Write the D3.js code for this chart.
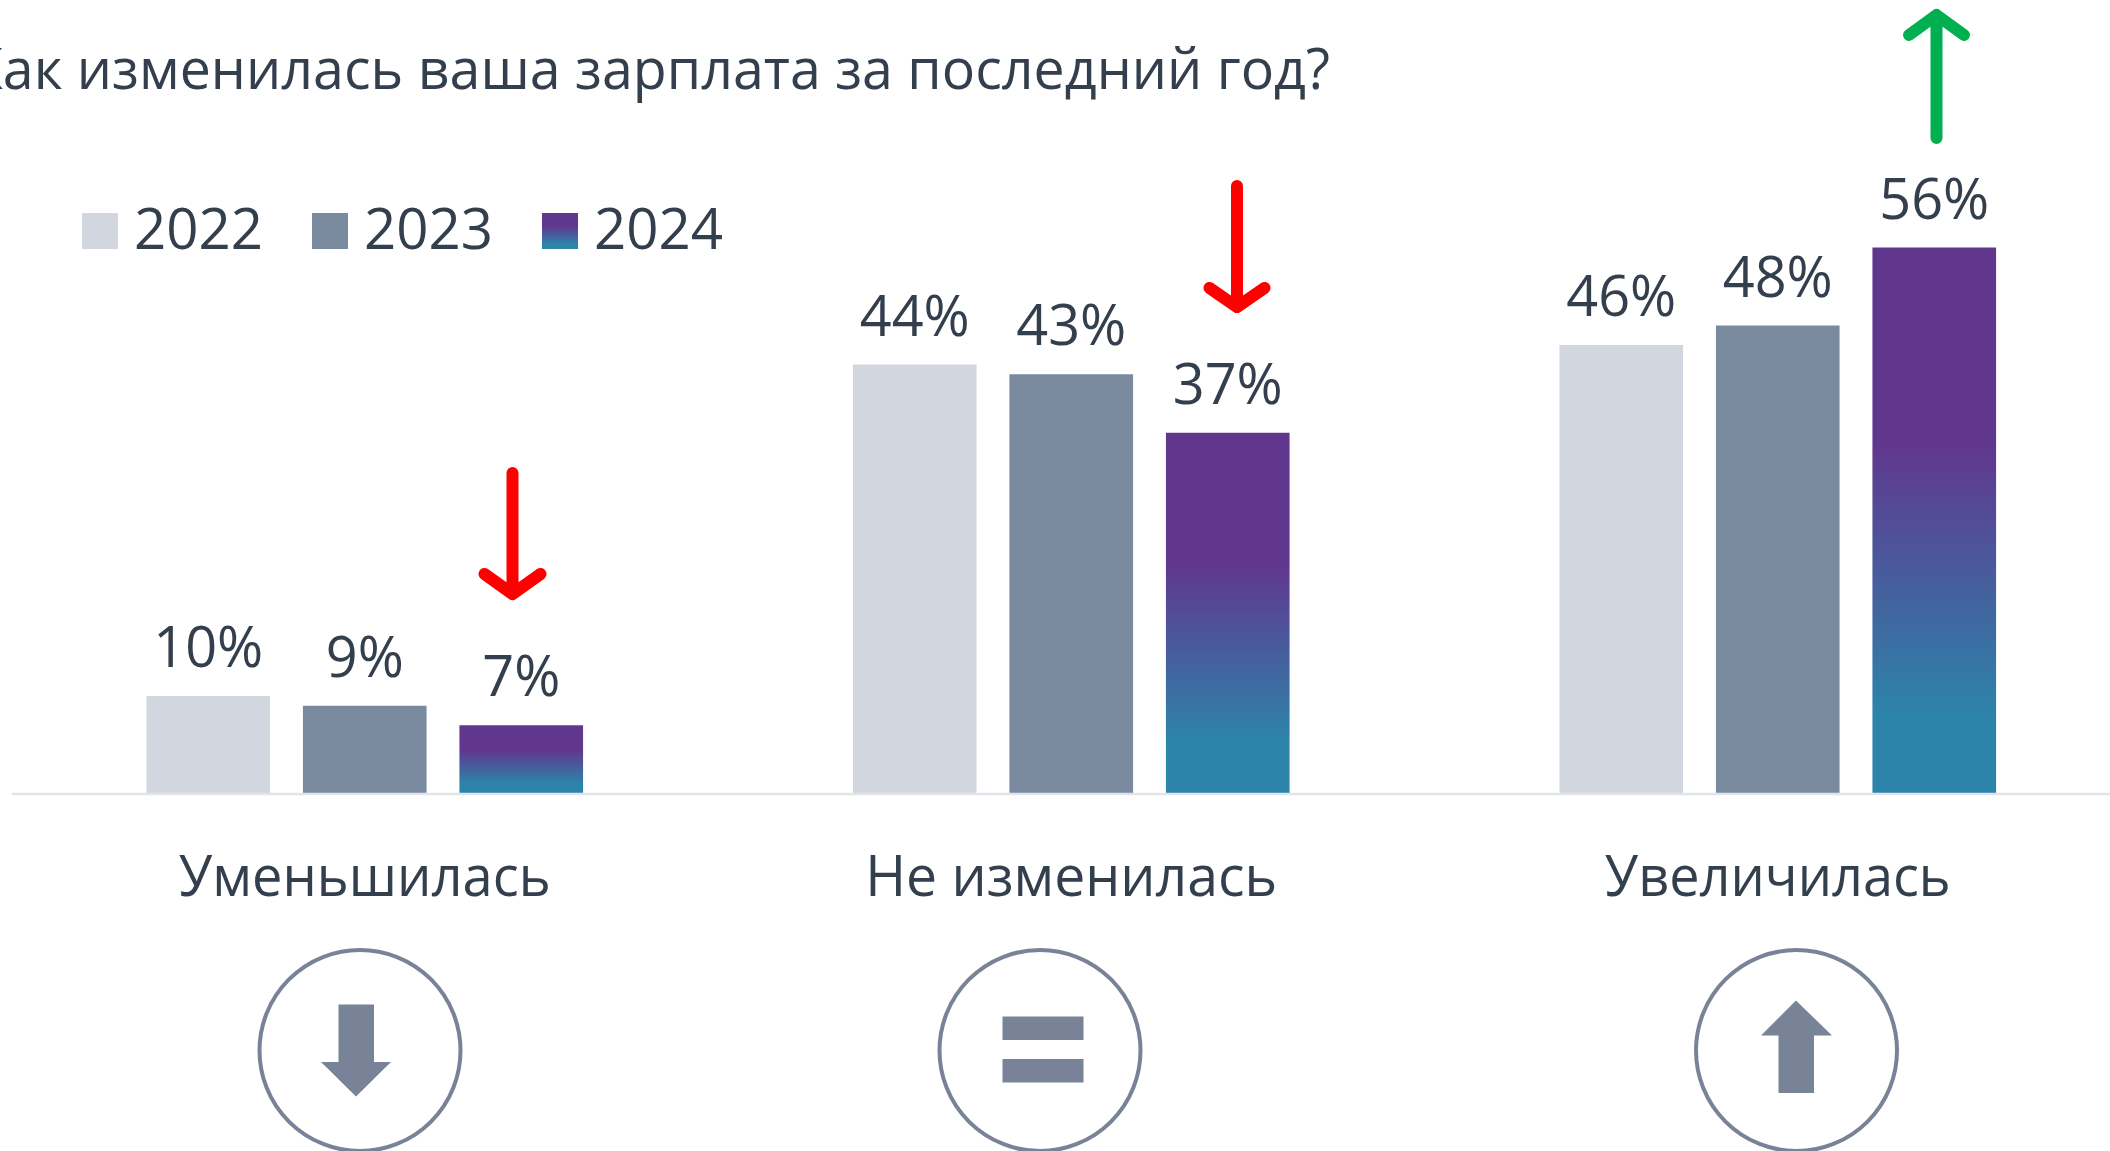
<!DOCTYPE html>
<html>
<head>
<meta charset="utf-8">
<script src="https://cdn.jsdelivr.net/npm/d3@7"></script>
<style>
    html, body { margin: 0; padding: 0; background: #fff; overflow: hidden; }
    svg { display: block; }
    text { font-family: "Open Sans", sans-serif; fill: #333f4c; }
</style>
</head>
<body>
<svg id="chart" width="2110" height="1151"></svg>
<script>
const title = "Как изменилась ваша зарплата за последний год?"
const categories = ["Уменьшилась", "Не изменилась", "Увеличилась"]
const years = ["2022", "2023", "2024"]
const values2022 = [10, 44, 46]
const values2023 = [9, 43, 48]
const values2024 = [7, 37, 56]
const series = [values2022, values2023, values2024]

const svg = d3.select("#chart")
const baseY = 793.5

const x = d3.scaleBand().domain(categories).range([11.5, 2131])
const xYear = d3.scaleBand().domain(years).range([0, 469.5]).paddingInner(0.21).paddingOuter(0.105)
const y = d3.scaleLinear().domain([0, 60]).range([baseY, 208.5])

const colors = {"2022": "#d2d7df", "2023": "#798a9f", "2024": "url(#grad2024)"}
const barLeft = (cat, year) => x(cat) + (x.bandwidth() - xYear.range()[1]) / 2 + xYear(year)

// gradient of the 2024 bars
const grad = svg.append("defs").append("linearGradient")
    .attr("id", "grad2024")
    .attr("x1", 0).attr("y1", 0).attr("x2", 0).attr("y2", 1)
grad.append("stop").attr("offset", 0.36).attr("stop-color", "#61378e")
grad.append("stop").attr("offset", 0.86).attr("stop-color", "#2c84ab")

// title, cut by the left edge like the original
svg.append("text")
    .attr("x", -31)
    .attr("y", 89)
    .attr("font-size", 56)
    .attr("textLength", 1361)
    .attr("lengthAdjust", "spacingAndGlyphs")
    .text(title)

// legend
const legendX = [82, 312, 542]
years.forEach((year, i) => {
    svg.append("rect")
        .attr("x", legendX[i]).attr("y", 213)
        .attr("width", 36).attr("height", 36)
        .attr("fill", colors[year])
    svg.append("text")
        .attr("x", legendX[i] + 52).attr("y", 249)
        .attr("font-size", 57)
        .attr("textLength", 129)
        .attr("lengthAdjust", "spacingAndGlyphs")
        .text(year)
})

// bars and value labels
years.forEach((year, s) => {
    categories.forEach((cat, c) => {
        const v = series[s][c]
        const left = barLeft(cat, year)
        svg.append("rect")
            .attr("x", left).attr("y", y(v))
            .attr("width", xYear.bandwidth()).attr("height", baseY - y(v))
            .attr("fill", colors[year])
        svg.append("text")
            .attr("x", left + xYear.bandwidth() / 2).attr("y", y(v) - 29)
            .attr("text-anchor", "middle")
            .attr("font-size", 57)
            .attr("textLength", v < 10 ? 78 : 110)
            .attr("lengthAdjust", "spacingAndGlyphs")
            .text(v + "%")
    })
})

// category axis
const axis = svg.append("g")
    .attr("transform", `translate(0,${baseY})`)
    .call(d3.axisBottom(x).tickSize(0))
axis.select(".domain").attr("stroke", "#e1e5eb").attr("stroke-width", 2.5)
axis.selectAll(".tick text")
    .attr("font-family", null)
    .attr("font-size", 56)
    .attr("dy", 0)
    .attr("y", 102.5)
    .attr("textLength", (d, i) => [372, 412, 346][i])
    .attr("lengthAdjust", "spacingAndGlyphs")
    .style("fill", "#333f4c")

// trend arrows above the 2024 bars
const trendArrows = [
    {x: 512.5, top: 473, tip: 594, headY: 574, half: 28, color: "#ff0000"},
    {x: 1237, top: 186, tip: 307, headY: 288, half: 27.5, color: "#ff0000"},
    {x: 1936.5, top: 138, tip: 15, headY: 35, half: 27.5, color: "#00b050"}
]
trendArrows.forEach(a => {
    svg.append("path")
        .attr("d", `M${a.x},${a.top}L${a.x},${a.tip}M${a.x - a.half},${a.headY}L${a.x},${a.tip}L${a.x + a.half},${a.headY}`)
        .attr("fill", "none")
        .attr("stroke", a.color)
        .attr("stroke-width", 12)
        .attr("stroke-linecap", "round")
        .attr("stroke-linejoin", "round")
})

// circle icons under the categories
const iconColor = "#798398"
const iconX = [360, 1040, 1796.5]
iconX.forEach(cx => {
    svg.append("circle")
        .attr("cx", cx).attr("cy", 1050.5).attr("r", 100.5)
        .attr("fill", "none")
        .attr("stroke", iconColor)
        .attr("stroke-width", 4)
})
svg.append("path").attr("fill", iconColor)
    .attr("d", "M338.5,1004.5H374V1062H391L356,1096.5L321,1062H338.5Z")
svg.append("rect").attr("fill", iconColor)
    .attr("x", 1002.5).attr("y", 1016.5).attr("width", 81).attr("height", 23.5)
svg.append("rect").attr("fill", iconColor)
    .attr("x", 1002.5).attr("y", 1059).attr("width", 81).attr("height", 23.5)
svg.append("path").attr("fill", iconColor)
    .attr("d", "M1796,1000.5L1832,1035.5H1814V1093H1778.5V1035.5H1761Z")
</script>
</body>
</html>
